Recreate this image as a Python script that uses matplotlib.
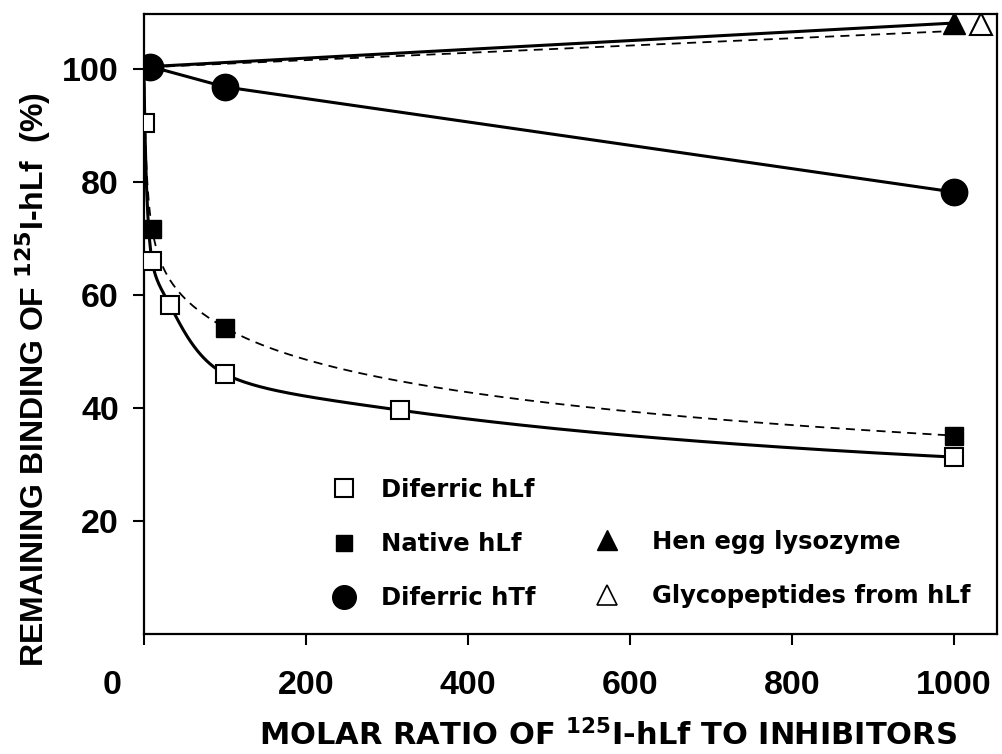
import matplotlib
matplotlib.use("Agg")
import matplotlib.pyplot as plt
import matplotlib.transforms as mtransforms
import numpy as np

plt.rcParams["font.family"] = ["Liberation Sans", "DejaVu Sans"]
plt.rcParams["font.weight"] = "bold"
plt.rcParams["mathtext.fontset"] = "custom"
plt.rcParams["mathtext.rm"] = "DejaVu Sans:bold"
plt.rcParams["mathtext.bf"] = "DejaVu Sans:bold"
plt.rcParams["mathtext.default"] = "rm"

# molar ratio of 125I-hLf to inhibitor; x=0 is the uninhibited control (100 %)
diferric_hlf_x = [0, 1, 10, 31.6, 100, 316, 1000]
diferric_hlf_y = [100, 90.4, 66.0, 58.3, 46.0, 39.6, 31.3]

native_hlf_x = [0, 10, 100, 1000]
native_hlf_y = [100, 71.7, 54.2, 35.1]

diferric_htf_x = [8, 100, 1000]
diferric_htf_y = [100.4, 96.8, 78.2]

lysozyme_x = [8, 1000]
lysozyme_y = [100.4, 108.1]

# glycopeptide line ends at 1000, its symbol is set a little to the right
glyco_line_x = [8, 1000]
glyco_line_y = [100.3, 106.7]
glyco_x = [1033]
glyco_y = [108.0]

x_ticks = [0, 200, 400, 600, 800, 1000]
y_ticks = [20, 40, 60, 80, 100]


def pchip(x, y, xq):
    # shape preserving cubic through the points (no scipy here)
    x = np.asarray(x, float)
    y = np.asarray(y, float)
    h = np.diff(x)
    d = np.diff(y) / h
    m = np.zeros_like(y)
    m[0], m[-1] = d[0], d[-1]
    for k in range(1, len(x) - 1):
        if d[k - 1] * d[k] > 0:
            w1 = 2 * h[k] + h[k - 1]
            w2 = h[k] + 2 * h[k - 1]
            m[k] = (w1 + w2) / (w1 / d[k - 1] + w2 / d[k])
    idx = np.clip(np.searchsorted(x, xq) - 1, 0, len(x) - 2)
    t = (xq - x[idx]) / h[idx]
    h00 = 2 * t**3 - 3 * t**2 + 1
    h10 = t**3 - 2 * t**2 + t
    h01 = -2 * t**3 + 3 * t**2
    h11 = t**3 - t**2
    return h00 * y[idx] + h10 * h[idx] * m[idx] + h01 * y[idx + 1] + h11 * h[idx] * m[idx + 1]


def smooth_curve(xs, ys):
    # interpolate in log(1+x) so the steep start stays smooth
    u = np.log10(1 + np.asarray(xs, float))
    uq = np.linspace(u[0], u[-1], 400)
    return 10**uq - 1, pchip(u, ys, uq)


fig = plt.figure(figsize=(10.02, 7.54), dpi=100)
ax = fig.add_axes([144 / 1002, 1 - 634 / 754, 853 / 1002, 620 / 754])

dashes = (0, (5, 3.5))

cx, cy = smooth_curve(diferric_hlf_x, diferric_hlf_y)
ax.plot(cx, cy, color="black", lw=2.2, zorder=2)
cx, cy = smooth_curve(native_hlf_x, native_hlf_y)
ax.plot(cx, cy, color="black", lw=1.3, linestyle=dashes, zorder=2)

ax.plot(diferric_htf_x, diferric_htf_y, color="black", lw=2.2, zorder=2)
ax.plot(lysozyme_x, lysozyme_y, color="black", lw=2.2, zorder=2)
ax.plot(glyco_line_x, glyco_line_y, color="black", lw=1.3, linestyle=dashes, zorder=2)

# markers (skip the x=0 control that only anchors the curves)
ax.plot(diferric_hlf_x[1:], diferric_hlf_y[1:], "s", ms=12.5, mfc="white",
        mec="black", mew=1.5, linestyle="None", zorder=3)
ax.plot(native_hlf_x[1:], native_hlf_y[1:], "s", ms=13.5, color="black",
        linestyle="None", zorder=4)
ax.plot(diferric_htf_x, diferric_htf_y, "o", ms=19, color="black",
        linestyle="None", zorder=4)
ax.plot(lysozyme_x[1:], lysozyme_y[1:], "^", ms=16, color="black",
        linestyle="None", zorder=4)
ax.plot(glyco_x, glyco_y, "^", ms=16, mfc="white", mec="black",
        mew=1.5, linestyle="None", zorder=4)

ax.set_xlim(0, 1053)
ax.set_ylim(0, 109.7)
ax.set_xticks(x_ticks)
ax.set_yticks(y_ticks)
ax.tick_params(axis="x", length=8, width=1.5, pad=18, labelsize=24.5)
ax.tick_params(axis="y", length=8, width=1.5, pad=10, labelsize=24.5)
for s in ax.spines.values():
    s.set_linewidth(1.6)

# the "0" sits left of the spine in the original
lbl0 = ax.get_xticklabels()[0]
lbl0.set_transform(lbl0.get_transform() + mtransforms.ScaledTranslation(-32 / 100, 0, fig.dpi_scale_trans))

# legend, drawn as two columns
mk = dict(color="black", linestyle="None")
h_open_sq = plt.Line2D([], [], marker="s", ms=12.5, mfc="white", mec="black", mew=1.5, **mk)
h_fill_sq = plt.Line2D([], [], marker="s", ms=12, **mk)
h_circle = plt.Line2D([], [], marker="o", ms=17, **mk)
h_tri = plt.Line2D([], [], marker="^", ms=15, **mk)
h_open_tri = plt.Line2D([], [], marker="^", ms=15, mfc="white", mec="black", mew=1.2, **mk)

leg_kw = dict(frameon=False, handlelength=1.0, labelspacing=1.24, borderpad=0,
              borderaxespad=0, loc="upper left",
              prop=dict(family="DejaVu Sans", weight="bold", size=17.5))
leg1 = ax.legend([h_open_sq, h_fill_sq, h_circle],
                 ["Diferric hLf", "Native hLf", "Diferric hTf"], handletextpad=1.0,
                 bbox_to_anchor=((332 - 144) / 853, (634 - 478) / 620), **leg_kw)
ax.add_artist(leg1)
ax.legend([h_tri, h_open_tri], ["Hen egg lysozyme", "Glycopeptides from hLf"],
          handletextpad=1.35,
          bbox_to_anchor=((595 - 144) / 853, (634 - 530) / 620), **leg_kw)

fig.text(33 / 1002, 1 - 380 / 754, r"REMAINING BINDING OF $^{125}$I-hLf  (%)",
         rotation=90, ha="center", va="center", fontsize=23,
         family=["Liberation Sans Narrow", "Liberation Sans"], fontweight="bold")
fig.text(608 / 1002, 9 / 754, r"MOLAR RATIO OF $^{125}$I-hLf TO INHIBITORS",
         ha="center", va="baseline", fontsize=22, family="DejaVu Sans",
         fontweight="bold")

fig.savefig("out.png", dpi=100)
